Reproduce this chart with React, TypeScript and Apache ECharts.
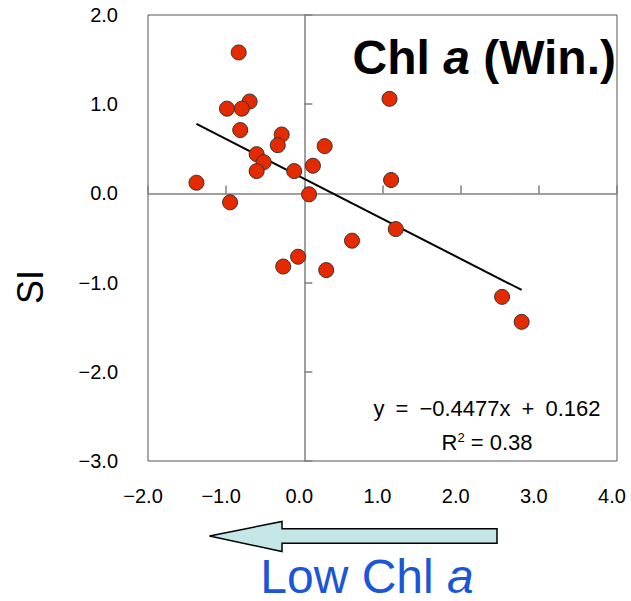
import React, { useEffect, useRef } from "react";
import * as echarts from "echarts";

// Data (x = Chl a anomaly, y = SI)
const xValues = [-0.84, -0.70, -0.99, -0.80, -0.82, -0.29, -0.34, -0.61, -0.52, -0.61, -0.13, 0.11, 0.26, -1.38, -0.95, 0.06, -0.08, -0.27, 0.28, 0.61, 1.09, 1.11, 1.17, 2.53, 2.78];
const yValues = [1.58, 1.03, 0.95, 0.95, 0.71, 0.66, 0.54, 0.44, 0.35, 0.25, 0.25, 0.31, 0.53, 0.12, -0.10, -0.01, -0.71, -0.82, -0.86, -0.53, 1.06, 0.15, -0.40, -1.16, -1.44];

const slope = -0.4477;
const intercept = 0.162;
const rSquared = "0.38";
const xRange = [-2, 4];
const yRange = [-3, 2];

const fmt = (v: number) => (v < 0 ? "\u2212" + Math.abs(v).toFixed(1) : v.toFixed(1));

export default function App() {
  const ref = useRef<HTMLDivElement>(null);
  useEffect(() => {
    if (!ref.current) return;
    const chart = echarts.init(ref.current, null, { renderer: "svg" });
    const pts = xValues.map((x, i) => [x, yValues[i]]);
    const xmin = Math.min(...xValues);
    const xmax = Math.max(...xValues);
    const fontFamily = "'Liberation Sans', Arial, sans-serif";
    const sp = "\u2002";
    chart.setOption({
      animation: false,
      grid: {
        left: 148,
        top: 15,
        width: 469,
        height: 446,
        show: true,
        borderColor: "#555",
        borderWidth: 1,
        backgroundColor: "#fff",
      },
      xAxis: [
        {
          type: "value",
          min: xRange[0],
          max: xRange[1],
          interval: 1,
          position: "bottom",
          axisLine: { show: false, onZero: false },
          axisTick: { show: false },
          splitLine: { show: false },
          axisLabel: {
            formatter: fmt,
            fontSize: 20,
            color: "#000",
            fontFamily,
            margin: 25,
            padding: [0, 10, 0, 0],
          },
        },
        {
          type: "value",
          min: xRange[0],
          max: xRange[1],
          interval: 1,
          position: "top",
          axisLine: { show: true, onZero: true, lineStyle: { color: "#808080", width: 1.5 } },
          axisTick: { show: true, length: 8, lineStyle: { color: "#808080", width: 1.5 } },
          splitLine: { show: false },
          axisLabel: { show: false },
        },
      ],
      yAxis: [
        {
          type: "value",
          min: yRange[0],
          max: yRange[1],
          interval: 1,
          position: "left",
          axisLine: { show: false, onZero: false },
          axisTick: { show: false },
          splitLine: { show: false },
          axisLabel: {
            formatter: fmt,
            fontSize: 20,
            color: "#000",
            fontFamily,
            margin: 30,
          },
        },
        {
          type: "value",
          min: yRange[0],
          max: yRange[1],
          interval: 1,
          position: "right",
          axisLine: { show: true, onZero: true, lineStyle: { color: "#808080", width: 1.5 } },
          axisTick: { show: true, length: 8, lineStyle: { color: "#808080", width: 1.5 } },
          splitLine: { show: false },
          axisLabel: { show: false },
        },
      ],
      series: [
        {
          type: "line",
          xAxisIndex: 0,
          yAxisIndex: 0,
          data: [
            [xmin, slope * xmin + intercept],
            [xmax, slope * xmax + intercept],
          ],
          symbol: "none",
          lineStyle: { color: "#000", width: 2 },
          z: 3,
        },
        {
          type: "scatter",
          xAxisIndex: 0,
          yAxisIndex: 0,
          data: pts,
          symbolSize: 15,
          itemStyle: { color: "#e62a00", borderColor: "#333", borderWidth: 1, opacity: 1 },
          z: 4,
        },
      ],
      graphic: [
        {
          type: "text",
          x: 30,
          y: 287,
          rotation: Math.PI / 2,
          style: {
            text: "SI",
            fontSize: 36,
            fontFamily,
            fill: "#000",
            align: "center",
            verticalAlign: "middle",
          },
        },
        {
          type: "text",
          x: 616,
          y: 57,
          z: 10,
          style: {
            text: "{n|Chl }{i|a}{n| (Win.)}",
            align: "right",
            verticalAlign: "middle",
            rich: {
              n: { fontSize: 48, fontWeight: "bold", fontFamily, fill: "#000" },
              i: { fontSize: 48, fontWeight: "bold", fontStyle: "italic", fontFamily, fill: "#000" },
            },
          },
        },
        {
          type: "text",
          x: 487,
          y: 408,
          z: 10,
          style: {
            text: `y${sp}=${sp}\u2212${Math.abs(slope)}x${sp}+${sp}${intercept}`,
            fontSize: 22,
            fontFamily,
            fill: "#000",
            align: "center",
            verticalAlign: "middle",
          },
        },
        {
          type: "text",
          x: 487,
          y: 442,
          z: 10,
          style: {
            text: `{n|R}{s|2}{n| = ${rSquared}}`,
            align: "center",
            verticalAlign: "middle",
            rich: {
              n: { fontSize: 22, fontFamily, fill: "#000" },
              s: { fontSize: 13, fontFamily, fill: "#000", verticalAlign: "top", padding: [0, 0, 10, 0] },
            },
          },
        },
        {
          type: "polygon",
          shape: {
            points: [
              [209.5, 536],
              [282, 521.5],
              [282, 528.7],
              [497, 528.7],
              [497, 543.3],
              [282, 543.3],
              [282, 551.5],
            ],
          },
          style: { fill: "#c4e6e6", stroke: "#000", lineWidth: 1.5 },
        },
        {
          type: "text",
          x: 367,
          y: 600,
          style: {
            text: "{n|Low Chl }{i|a}",
            align: "center",
            verticalAlign: "bottom",
            rich: {
              n: { fontSize: 48, fontFamily, fill: "#1a56d6" },
              i: { fontSize: 48, fontStyle: "italic", fontFamily, fill: "#1a56d6" },
            },
          },
        },
      ],
    });
    return () => chart.dispose();
  }, []);
  return (
    <div
      ref={ref}
      style={{ position: "fixed", left: 0, top: 0, width: 631, height: 601, background: "#fff" }}
    />
  );
}
